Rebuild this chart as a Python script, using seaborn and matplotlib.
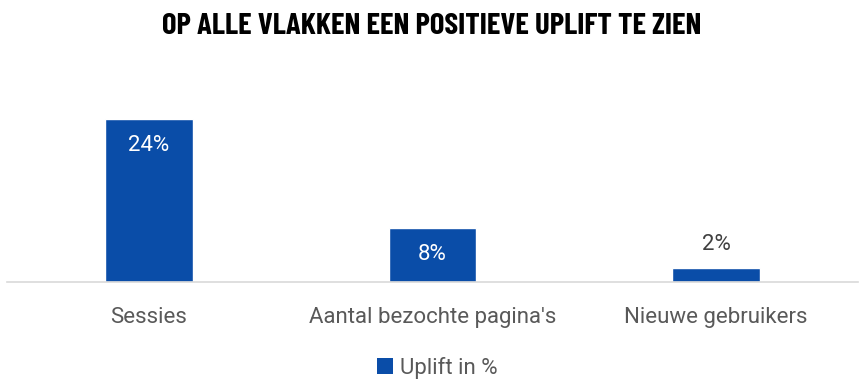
import matplotlib
matplotlib.use("Agg")
import matplotlib.pyplot as plt
import seaborn as sns
import pandas as pd
from matplotlib.patches import Patch

categories = ["Sessies", "Aantal bezochte pagina's", "Nieuwe gebruikers"]
values = [24, 8, 2]
labels = ["24%", "8%", "2%"]
series_name = "Uplift in %"
title = "OP ALLE VLAKKEN EEN POSITIEVE UPLIFT TE ZIEN"

sns.set_theme(style="white")
plt.rcParams['font.family'] = ['Roboto', 'DejaVu Sans']

bar_color = "#0A4DA8"
text_gray = "#595959"

df = pd.DataFrame({"cat": categories, "val": values})

fig = plt.figure(figsize=(8.64, 3.89), dpi=100)
ax = fig.add_axes([7.25 / 864, 107 / 389, 850.5 / 864, 204 / 389])
sns.barplot(data=df, x="cat", y="val", color=bar_color, width=0.31,
            saturation=1, ax=ax)
ax.set_xlim(-0.5, 2.5)
ax.set_ylim(0, 30)
ax.set_xlabel("")
ax.set_ylabel("")
ax.set_yticks([])
for s in ["top", "right", "left"]:
    ax.spines[s].set_visible(False)
ax.spines["bottom"].set_color("#D9D9D9")
ax.spines["bottom"].set_linewidth(1.2)
ax.tick_params(axis="x", length=0, pad=18, labelsize=16, labelcolor=text_gray)

for i, (v, lab) in enumerate(zip(values, labels)):
    if v >= 5:
        ax.text(i, v - 3.9, lab, ha="center", va="center", color="white",
                fontsize=16)
    else:
        ax.text(i, v + 3.5, lab, ha="center", va="center", color="#404040",
                fontsize=16)

fig.text(432 / 864, 1 - 27 / 389, title, ha="center", va="center",
         fontsize=22.2, fontweight="bold", color="black",
         family=['Barlow Condensed', 'DejaVu Sans'])

handles = [Patch(facecolor=bar_color, edgecolor="none")]
leg = fig.legend(handles, [series_name], loc="center",
                 bbox_to_anchor=(437 / 864, 1 - 368 / 389), frameon=False,
                 handlelength=0.75, handleheight=0.75, handletextpad=0.3,
                 fontsize=16)
for t in leg.get_texts():
    t.set_color(text_gray)

fig.savefig("out.png", dpi=100)
